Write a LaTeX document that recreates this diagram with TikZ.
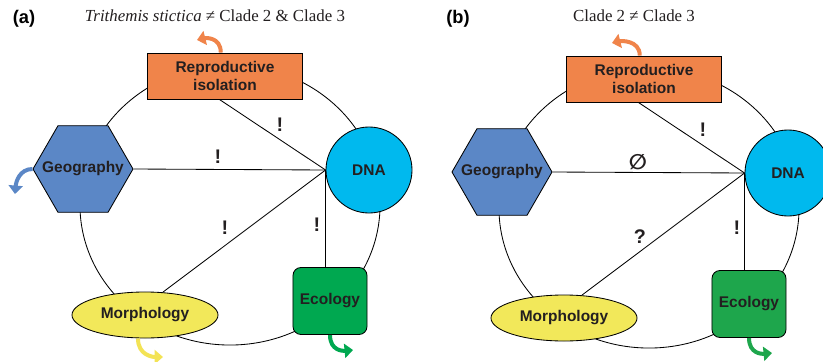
\documentclass[tikz,border=0pt]{standalone}
\usepackage{amsmath}
\usepackage{amssymb}
\usepackage{fontspec}
\setmainfont{Liberation Serif}
\newfontfamily\headfont{Liberation Sans}
\newfontfamily\signfont{DejaVu Sans}
\usetikzlibrary{positioning, shapes.geometric, arrows.meta}
\definecolor{inkcol}{RGB}{35,31,32}
\definecolor{repcol}{RGB}{240,132,74}
\definecolor{dnacol}{RGB}{0,185,238}
\definecolor{geocol}{RGB}{91,135,198}
\definecolor{morphcol}{RGB}{242,232,90}
\definecolor{ecocol}{RGB}{0,168,80}
\definecolor{ecocolb}{RGB}{30,166,76}

\begin{document}
\begin{tikzpicture}[
  x=0.025cm, y=-0.025cm,
  line width=0.6pt,
  every node/.style={font=\headfont\bfseries\fontsize{11}{12.8}\selectfont, text=inkcol},
  repbox/.style={draw, fill=repcol, minimum width=3.875cm, minimum height=1.15cm, align=center, inner sep=0pt},
  dnacircle/.style={draw, circle, fill=dnacol, minimum size=2.15cm, inner sep=0pt},
  geohex/.style={draw, regular polygon, regular polygon sides=6, fill=geocol, minimum size=2.5cm, inner sep=0pt},
  morphellipse/.style={draw, ellipse, fill=morphcol, minimum width=3.65cm, minimum height=1.15cm, inner sep=0pt},
  ecobox/.style={draw, rounded corners=0.2cm, fill=ecocol, minimum width=1.85cm, minimum height=1.675cm, inner sep=0pt},
  signlabel/.style={font=\headfont\bfseries\fontsize{14}{16}\selectfont, inner sep=0pt},
  panellabel/.style={font=\headfont\bfseries\fontsize{13}{15}\selectfont, text=black},
  titlelabel/.style={font=\rmfamily\fontsize{12}{14}\selectfont, text=inkcol},
  turnarrow/.style={line width=0.1cm, -{Triangle[length=6pt, width=10pt]}},
]
  \useasboundingbox[fill=white] (0,0) rectangle (823,362);

  % Panel labels and titles
  \node (labelA) [panellabel] at (24,19) {(a)};
  \node (labelB) [panellabel] at (458,19) {(b)};
  \node (titleA) [titlelabel] at (215,16) {\textit{Trithemis stictica} ≠ Clade 2 \& Clade 3};
  \node (titleB) [titlelabel] at (634,16) {Clade 2 ≠ Clade 3};

  % Panel (a)
  \draw (230,205) ellipse [x radius=3.75cm, y radius=3.5cm];
  \node (repA) [repbox] at (225,76) {Reproductive\\isolation};
  \node (dnaA) [dnacircle] at (369,170) {DNA};
  \node (geoA) [geohex] at (83,169) {};
  \node (geoTextA) at (geoA.center) {Geography};
  \node (morphA) [morphellipse] at (145,315) {Morphology};
  \node (ecoA) [ecobox] at (330,301) {Ecology};

  \draw (dnaA.west) -- ([xshift=-4pt]repA.south);
  \draw (dnaA.west) -- (geoA.east);
  \draw (dnaA.west) -- (morphA.52);
  \draw (dnaA.west) -- (dnaA.west |- ecoA.north);

  \node (signA1) [signlabel] at (280,125) {!};
  \node (signA2) [signlabel] at (218,157) {!};
  \node (signA3) [signlabel] at (225,228) {!};
  \node (signA4) [signlabel] at (317,225) {!};

  % Curved arrows
  \draw [turnarrow, repcol] ([xshift=-3pt]repA.north) .. controls +(0,-16) and +(8,-2) .. (197,40);
  \draw [turnarrow, geocol] (geoA.west) .. controls +(-13,0) and +(1,-12) .. (15,194);
  \draw [turnarrow, morphcol!95!orange] ([xshift=-5pt]morphA.south) .. controls +(0,17) and +(-10,0) .. (163,357);
  \draw [turnarrow, ecocol] (ecoA.south) .. controls +(0,16) and +(-10,1) .. (353,350);

  % Panel (b)
  \begin{scope}[shift={(419,3)}]
    \draw (230,205) ellipse [x radius=3.75cm, y radius=3.5cm];
    \node (repB) [repbox] at (225,76) {Reproductive\\isolation};
    \node (dnaB) [dnacircle] at (369,170) {DNA};
    \node (geoB) [geohex] at (83,169) {};
    \node (geoTextB) at (geoB.center) {Geography};
    \node (morphB) [morphellipse] at (145,315) {Morphology};
    \node (ecoB) [ecobox, fill=ecocolb] at (330,301) {Ecology};

    \draw (dnaB.west) -- ([xshift=-4pt]repB.south);
    \draw (dnaB.west) -- (geoB.east);
    \draw (dnaB.west) -- (morphB.52);
    \draw (dnaB.west) -- (dnaB.west |- ecoB.north);

    \node (signB1) [signlabel] at (284,127) {!};
    \node (signB2) [signlabel, font=\signfont\bfseries\fontsize{15}{17}\selectfont] at (219,159) {∅};
    \node (signB3) [signlabel] at (221,234) {?};
    \node (signB4) [signlabel] at (318,225) {!};

    \draw [turnarrow, repcol] ([xshift=-3pt]repB.north) .. controls +(0,-16) and +(8,-2) .. (193,40);
    \draw [turnarrow, ecocolb] (ecoB.south) .. controls +(0,16) and +(-10,1) .. (353,350);
  \end{scope}
\end{tikzpicture}
\end{document}
